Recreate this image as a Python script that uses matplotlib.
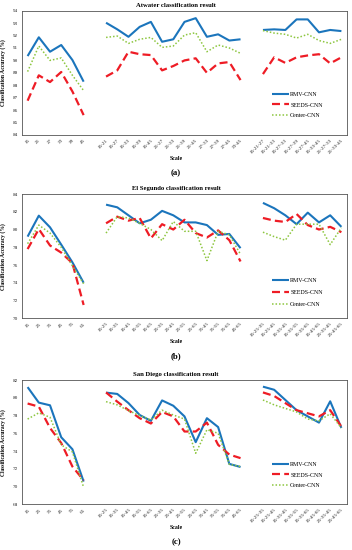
import numpy as np
import matplotlib
matplotlib.use('Agg')
from matplotlib import pyplot as plt

plt.rcParams['font.family'] = ['Liberation Serif', 'DejaVu Serif']

# (a) Atwater
atw_single = ['15', '21', '27', '33', '39', '45']
atw_pair = ['15-21', '15-27', '15-33', '15-39', '15-45', '21-27', '21-33',
            '21-39', '21-45', '27-33', '27-39', '27-45', '33-45']
atw_triple = ['15-21-27', '15-21-33', '15-27-33', '15-27-39', '15-27-45',
              '15-33-45', '21-27-33', '21-33-45']
atw_rmv = [90.35, 91.86, 90.7, 91.24, 90.03, 88.29,
           93.03, 92.5, 91.9, 92.7, 93.1, 91.5, 91.7, 93.1, 93.4, 91.9, 92.1, 91.6, 91.7,
           92.45, 92.5, 92.45, 93.3, 93.3, 92.26, 92.45, 92.36]
atw_seeds = [86.76, 88.8, 88.26, 89.07, 87.5, 85.6,
             88.7, 89.2, 90.7, 90.5, 90.43, 89.2, 89.55, 90.0, 90.17, 89.0, 89.76, 89.87, 88.42,
             88.9, 90.25, 89.8, 90.25, 90.4, 90.5, 89.76, 90.25]
atw_center = [89.1, 91.16, 90.0, 90.2, 88.8, 87.57,
              91.85, 91.96, 91.37, 91.7, 91.85, 91.05, 91.16, 92.04, 92.23, 90.7, 91.24, 91.0, 90.57,
              92.4, 92.2, 92.1, 91.8, 92.1, 91.6, 91.37, 91.7]

# (b) El Segundo
seg_single = ['15', '25', '35', '45', '55', '65']
seg_pair = ['15-25', '15-35', '15-45', '15-55', '15-65', '25-35', '25-45',
            '25-55', '25-65', '35-45', '35-55', '35-65', '45-65']
seg_triple = ['15-25-35', '15-25-45', '15-35-45', '15-35-55', '15-35-65',
              '15-45-65', '25-35-45', '25-45-65']
seg_rmv = [79.2, 81.56, 80.25, 78.3, 76.3, 74.0,
           82.8, 82.5, 81.6, 80.7, 81.1, 82.1, 81.6, 80.8, 80.8, 80.5, 79.4, 79.5, 77.9,
           83.0, 82.4, 81.6, 80.6, 81.9, 80.8, 81.6, 80.3]
seg_seeds = [77.8, 80.05, 78.2, 77.4, 76.2, 71.5,
             80.7, 81.45, 81.0, 81.3, 79.0, 80.6, 80.0, 81.1, 79.6, 79.1, 79.9, 78.8, 76.4,
             81.3, 81.0, 80.85, 81.75, 80.5, 80.0, 80.3, 79.7]
seg_center = [78.4, 80.5, 79.6, 78.0, 75.9, 73.9,
              79.6, 81.45, 81.3, 80.7, 80.0, 78.75, 80.9, 79.8, 79.8, 76.5, 79.8, 79.4, 77.2,
              79.7, 79.2, 78.8, 80.6, 80.6, 80.6, 78.3, 80.2]

# (c) San Diego
sd_single = ['15', '25', '35', '45', '55', '65']
sd_pair = seg_pair
sd_triple = seg_triple
sd_rmv = [81.2, 79.45, 79.15, 75.55, 74.2, 70.56,
          80.58, 80.43, 79.4, 78.06, 77.4, 79.7, 79.1, 77.9, 75.0, 77.7, 76.7, 72.55, 72.2,
          81.25, 80.9, 79.75, 78.6, 77.9, 77.2, 79.6, 76.6]
sd_seeds = [79.35, 79.0, 76.6, 74.9, 72.25, 70.7,
            80.6, 79.56, 78.6, 77.7, 77.1, 78.4, 77.9, 76.2, 76.2, 77.2, 74.7, 73.6, 73.2,
            80.6, 80.2, 79.4, 78.6, 78.25, 77.9, 78.6, 76.75]
sd_center = [77.6, 78.3, 77.8, 74.7, 73.9, 69.9,
             79.56, 79.2, 78.55, 78.0, 77.5, 78.6, 78.06, 77.6, 73.75, 76.4, 76.0, 72.5, 72.25,
             79.75, 79.2, 78.8, 78.4, 77.6, 77.4, 78.2, 76.6]

W, H = 352, 550
fig = plt.figure(figsize=(W / 100, H / 100), dpi=100)


def with_gaps(vals, n1, n2):
    # blank category between the groups, like the Excel chart
    v = list(vals)
    return v[:n1] + [np.nan] + v[n1:n1 + n2] + [np.nan] + v[n1 + n2:]


def draw_panel(top, title, tag, singles, pairs, triples, rmv, seeds, center,
               ylim, ystep, leg_top, leg_gap):
    bottom = top + 124.3
    ax = fig.add_axes([22 / W, 1 - bottom / H, 325 / W, 124.3 / H])
    labels = singles + [''] + pairs + [''] + triples
    x = np.arange(len(labels))
    n1, n2 = len(singles), len(pairs)
    ax.plot(x, with_gaps(rmv, n1, n2), color='#1B75BC', lw=1.5,
            solid_capstyle='butt', label='RMV-CNN')
    ax.plot(x, with_gaps(seeds, n1, n2), color='#EE1C25', lw=1.6,
            dashes=(3.6, 1.9), label='SEEDS-CNN')
    ax.plot(x, with_gaps(center, n1, n2), color='#8DC63F', lw=1.1,
            dashes=(1.0, 1.3), label='Center-CNN')
    ax.set_xlim(-0.5, len(labels) - 0.5)
    ax.set_ylim(*ylim)
    ax.set_yticks(np.arange(ylim[0], ylim[1] + 0.1, ystep))
    ax.set_xticks(x)
    ax.set_xticklabels(labels, rotation=45, ha='right', rotation_mode='anchor')
    ax.tick_params(axis='both', length=0, labelsize=3.7, colors='#222222')
    ax.tick_params(axis='x', pad=2.5)
    ax.tick_params(axis='y', pad=3)
    for s in ax.spines.values():
        s.set_color('#555555')
        s.set_linewidth(0.6)
    ax.set_ylabel('Classification Accuracy (%)', fontsize=4.1, fontweight='bold')
    ax.yaxis.set_label_coords(-0.05, 0.5)
    fig.text(0.5, 1 - (top - 5.5) / H, title, ha='center', va='center',
             fontsize=4.8, fontweight='bold')
    fig.text(176 / W, 1 - (bottom + 23) / H, 'Scale', ha='center', va='center',
             fontsize=4.2, fontweight='bold')
    fig.text(176 / W, 1 - (bottom + 38) / H, tag, ha='center', va='center',
             fontsize=6.4, fontweight='bold')
    ax.legend(loc='upper left', bbox_to_anchor=(272 / W, 1 - leg_top / H),
              bbox_transform=fig.transFigure, frameon=False, fontsize=4.3,
              handlelength=2.8, handletextpad=0.25, labelspacing=leg_gap,
              borderaxespad=0, borderpad=0)
    return ax


draw_panel(10.7, 'Atwater classification result', '(a)',
           atw_single, atw_pair, atw_triple, atw_rmv, atw_seeds, atw_center,
           (84, 94), 1, 91.5, 0.95)
draw_panel(194, 'El Segundo classification result', '(b)',
           seg_single, seg_pair, seg_triple, seg_rmv, seg_seeds, seg_center,
           (70, 84), 2, 277.5, 1.2)
draw_panel(380, 'San Diego classification result', '(c)',
           sd_single, sd_pair, sd_triple, sd_rmv, sd_seeds, sd_center,
           (68, 82), 2, 461.5, 0.95)

fig.savefig('out.png', dpi=100, facecolor='white')
